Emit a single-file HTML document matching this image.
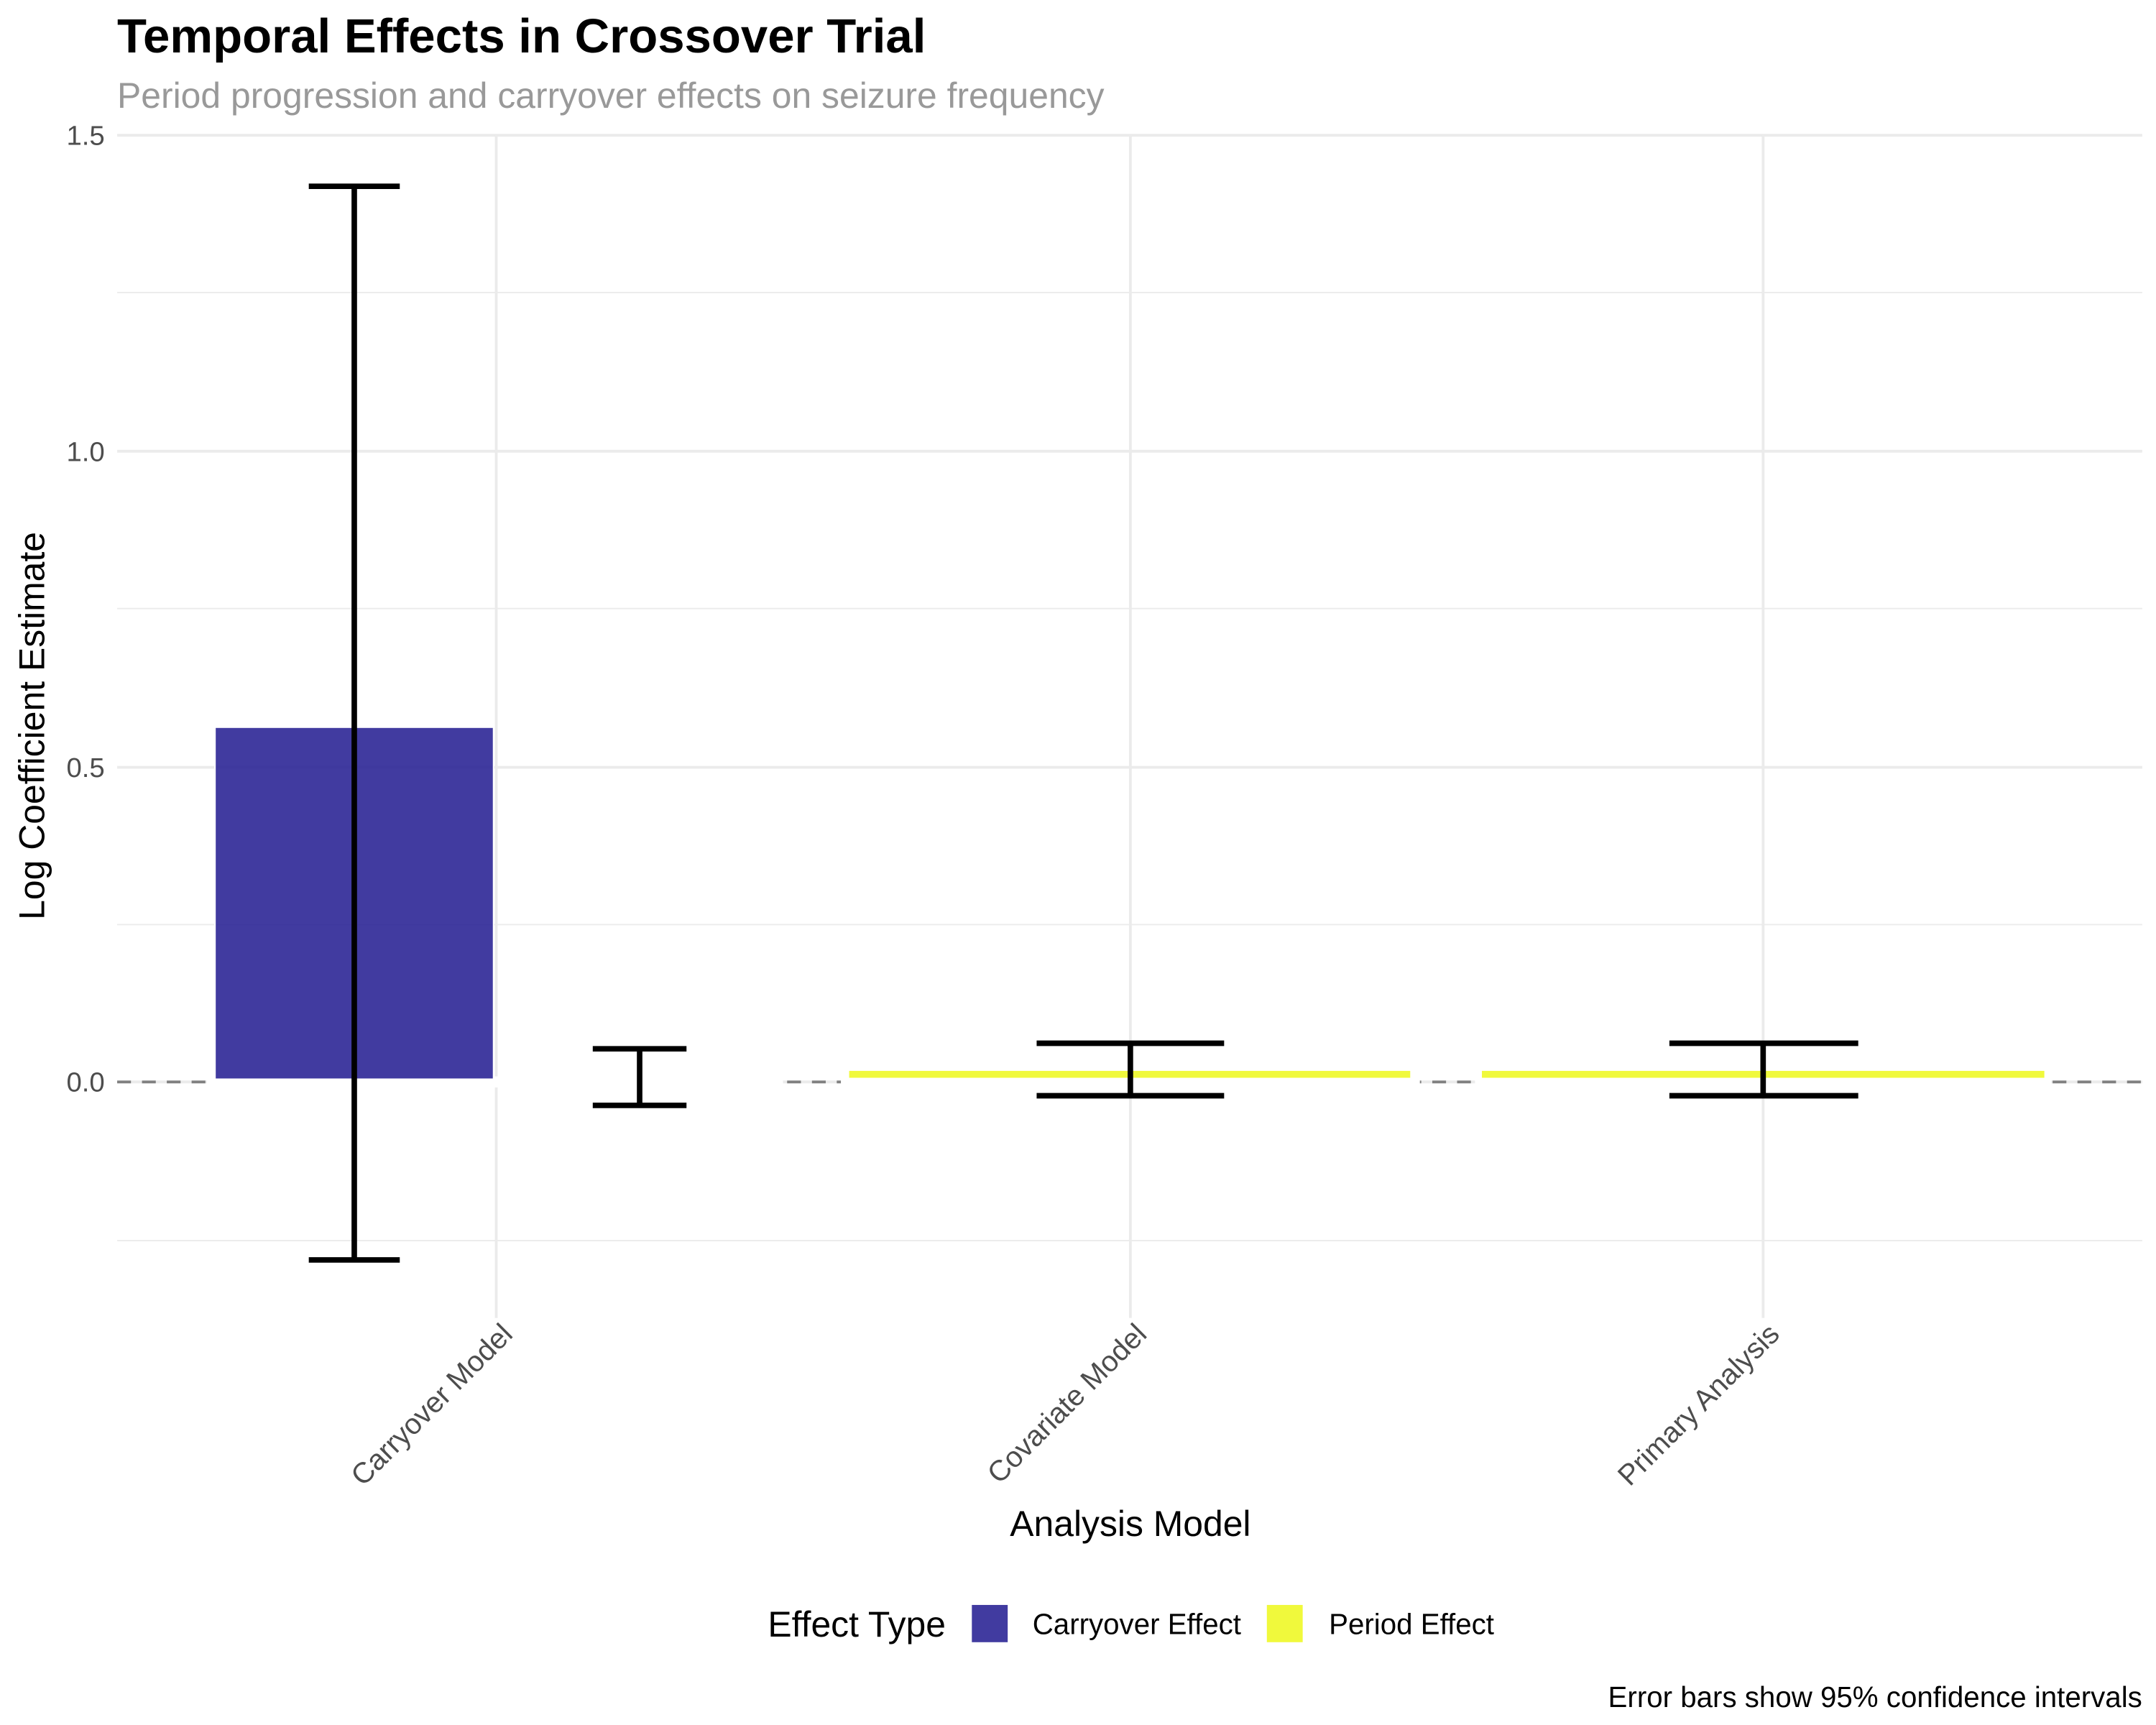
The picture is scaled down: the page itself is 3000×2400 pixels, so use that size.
<!DOCTYPE html>
<html><head><meta charset="utf-8"><style>html,body{margin:0;padding:0;background:#fff}svg{display:block}</style></head>
<body>
<svg width="3000" height="2400" viewBox="0 0 1564 1250" preserveAspectRatio="none" xmlns="http://www.w3.org/2000/svg" font-family="Liberation Sans, sans-serif">
<rect width="1564" height="1250" fill="#fff"/>
<g stroke="#ebebeb" stroke-width="1">
<line x1="85" x2="1554" y1="212" y2="212"/><line x1="85" x2="1554" y1="441" y2="441"/>
<line x1="85" x2="1554" y1="670" y2="670"/><line x1="85" x2="1554" y1="899" y2="899"/>
</g>
<g stroke="#ebebeb" stroke-width="2">
<line x1="85" x2="1554" y1="98" y2="98"/><line x1="85" x2="1554" y1="327" y2="327"/>
<line x1="85" x2="1554" y1="556" y2="556"/><line x1="85" x2="1554" y1="784" y2="784"/>
<line x1="360" x2="360" y1="98" y2="955"/><line x1="820" x2="820" y1="98" y2="955"/><line x1="1279" x2="1279" y1="98" y2="955"/>
</g>
<line x1="85" x2="1554" y1="784" y2="784" stroke="#808080" stroke-width="2" stroke-dasharray="10,8"/>
<g fill="#fff">
<rect x="150" y="780" width="418" height="8"/>
<rect x="610" y="780" width="420" height="8"/>
<rect x="1070" y="780" width="418" height="8"/>
</g>
<rect x="156" y="527" width="202" height="255" fill="#2c2696" fill-opacity="0.9" stroke="#fff" stroke-width="1"/>
<rect x="616" y="776" width="407" height="5" fill="#f0f93c"/>
<rect x="1075" y="776" width="408" height="5" fill="#f0f93c"/>
<g stroke="#000" stroke-width="4" fill="none">
<path d="M224 135H290M257 135V913M224 913H290"/>
<path d="M430 760H498M464 760V801M430 801H498"/>
<path d="M752 756H888M820 756V794M752 794H888"/>
<path d="M1211 756H1348M1279 756V794M1211 794H1348"/>
</g>
<g font-size="20" fill="#4d4d4d" text-anchor="end">
<text x="76" y="105">1.5</text><text x="76" y="334">1.0</text><text x="76" y="563">0.5</text><text x="76" y="791">0.0</text>
</g>
<g font-size="21" fill="#4d4d4d" text-anchor="end">
<text transform="translate(373,968) rotate(-45)">Carryover Model</text>
<text transform="translate(833,968) rotate(-45)">Covariate Model</text>
<text transform="translate(1292,968) rotate(-45)">Primary Analysis</text>
</g>
<text x="85" y="38" font-size="35" font-weight="bold">Temporal Effects in Crossover Trial</text>
<text x="85" y="78" font-size="26" fill="#999">Period progression and carryover effects on seizure frequency</text>
<text x="820" y="1113" font-size="26" text-anchor="middle">Analysis Model</text>
<text transform="translate(32,526) rotate(-90)" font-size="26" text-anchor="middle">Log Coefficient Estimate</text>
<text x="557" y="1186" font-size="26">Effect Type</text>
<rect x="705" y="1163" width="26" height="27" fill="#2c2696" fill-opacity="0.9"/>
<text x="749" y="1184" font-size="21">Carryover Effect</text>
<rect x="919" y="1163" width="26" height="27" fill="#f0f93c"/>
<text x="964" y="1184" font-size="21">Period Effect</text>
<text x="1554" y="1237" font-size="21" text-anchor="end">Error bars show 95% confidence intervals</text>
</svg>
</body></html>
